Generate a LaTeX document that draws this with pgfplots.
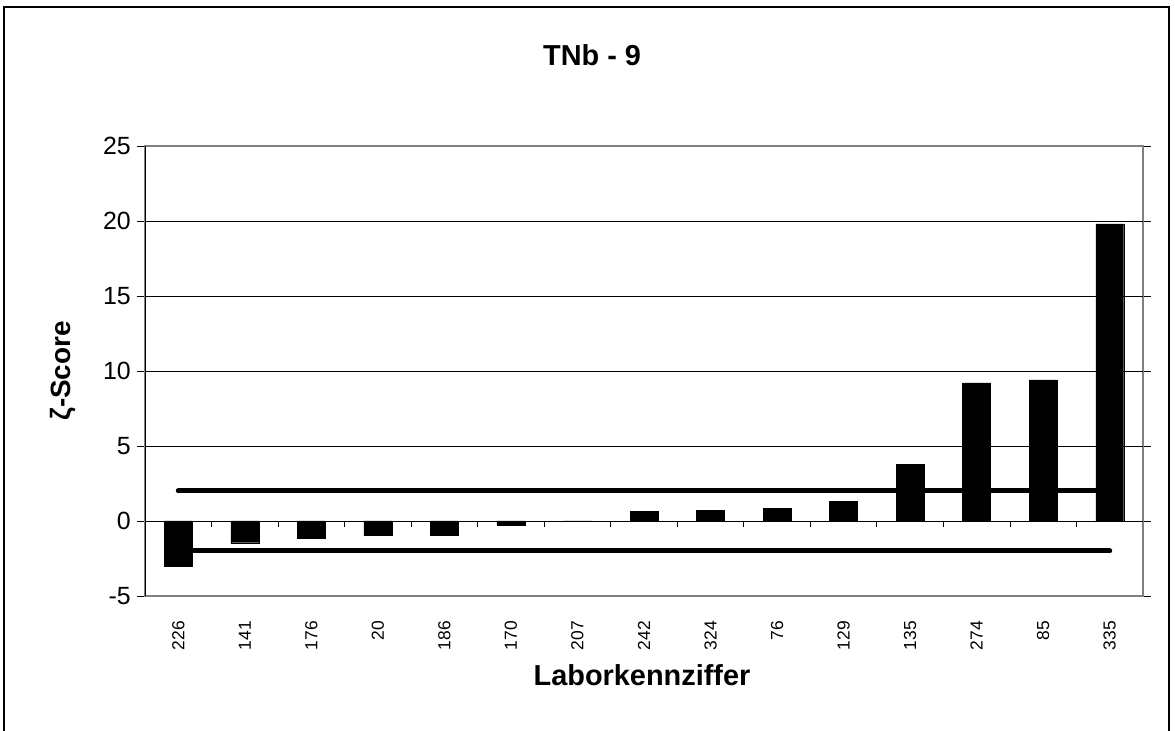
\documentclass[border=0pt]{standalone}
\usepackage{pgfplots}
\pgfplotsset{compat=1.18}
\usepackage{fontspec}
\setmainfont{Liberation Sans}

\definecolor{framegray}{HTML}{808080}

\begin{document}
\begin{tikzpicture}
  % page = 1175 x 731 px, 1px = 1bp
  \path[use as bounding box] (0bp,0bp) rectangle (1175bp,731bp);
  % outer chart frame (cut off at the bottom in the reference)
  \draw[line width=1.2bp] (4bp,-20bp) -- (4bp,724bp) -- (1169bp,724bp) -- (1169bp,-20bp);

  \begin{axis}[
      at={(145bp,135bp)}, anchor=south west,
      scale only axis,
      width=998bp, height=450bp,
      xmin=-0.5, xmax=14.5,
      ymin=-5, ymax=25,
      ytick={-5,0,5,10,15,20,25},
      yticklabels={-5,0,5,10,15,20,25},
      xtick={0,...,14},
      xticklabels={226,141,176,20,186,170,207,242,324,76,129,135,274,85,335},
      xtick style={draw=none},
      ytick style={black, line width=0.8bp},
      tick align=outside,
      major tick length=8bp,
      yticklabel style={font=\fontsize{25}{30}\selectfont, inner sep=0pt, xshift=-6bp},
      xticklabel style={font=\fontsize{17.5}{21}\selectfont, rotate=90, anchor=east, inner sep=0pt},
      xticklabel shift=17bp,
      axis line style={framegray, line width=2bp},
      extra y ticks={0,5,10,15,20},
      extra y tick labels={},
      extra y tick style={grid=major, major tick length=0pt},
      grid style={black, line width=0.8bp},
      title={TNb - 9},
      title style={font=\bfseries\fontsize{29}{34}\selectfont,
                   at={(axis description cs:0.448,1)}, anchor=center, yshift=85bp},
      xlabel={Laborkennziffer},
      xlabel style={font=\bfseries\fontsize{29}{34}\selectfont,
                    at={(axis description cs:0.498,-0.177)}, anchor=center},
      ylabel={ζ-Score},
      ylabel style={font=\bfseries\fontsize{28}{33}\selectfont,
                    at={(axis description cs:-0.082,0.5)}, anchor=center},
  ]

  % zeta scores
  \addplot[ybar, bar width=0.42, fill=black, draw=black] coordinates {
    (0,-3.0) (1,-1.45) (2,-1.12) (3,-0.97) (4,-0.95) (5,-0.27) (6,0)
    (7,0.65) (8,0.73) (9,0.83) (10,1.29) (11,3.76) (12,9.2) (13,9.4) (14,19.8)
  };

  % limits +2 / -2
  \addplot[black, line width=5bp, line cap=round, mark=none] coordinates {(0,2) (14,2)};
  \addplot[black, line width=5bp, line cap=round, mark=none] coordinates {(0,-2) (14,-2)};

  % category ticks on the zero line
  \pgfplotsinvokeforeach{0.5,1.5,2.5,3.5,4.5,5.5,6.5,7.5,8.5,9.5,10.5,11.5,12.5,13.5,14.5}{
    \draw[black, line width=0.8bp] (axis cs:#1,0) -- ++(0pt,-6bp);
  }
  % left axis line is black
  \draw[black, line width=1bp] (rel axis cs:0,0) -- (rel axis cs:0,1);
  \end{axis}
\end{tikzpicture}
\end{document}
